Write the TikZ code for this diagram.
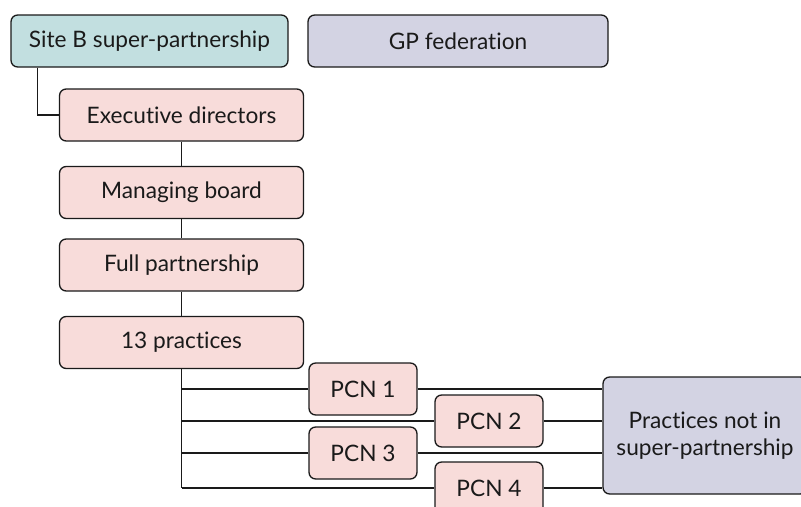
\documentclass[tikz,border=0pt]{standalone}
\usepackage{fontspec}
\setmainfont[RawFeature={-liga;-dlig}]{Lato}
\usetikzlibrary{calc}
\definecolor{tealfill}{HTML}{C2DFE0}
\definecolor{lavfill}{HTML}{D3D3E3}
\definecolor{pinkfill}{HTML}{F8DCDA}
\definecolor{inkcol}{HTML}{1A1A1A}
\tikzset{
  box/.style={draw=inkcol, line width=1pt, rounded corners=5pt, align=center,
    text=inkcol, font=\fontsize{17}{20}\selectfont, inner sep=0pt,
    minimum height=39pt},
  tealbox/.style={box, fill=tealfill},
  lavbox/.style={box, fill=lavfill},
  pinkbox/.style={box, fill=pinkfill},
  link/.style={draw=inkcol, line width=1pt}
}
\begin{document}
\begin{tikzpicture}[x=0.75pt,y=-0.75pt]
  \useasboundingbox (0,0) rectangle (801,507);
  \clip (0,0) rectangle (801,507);
  % top row
  \node[tealbox, minimum width=207.75pt] (siteb) at (149.5,41) {Site B super-partnership};
  \node[lavbox, minimum width=225pt] (gpfed) at (458,41) {GP federation};
  % governance chain
  \node[pinkbox, minimum width=183pt] (exec) at (181.5,115) {Executive directors};
  \node[pinkbox, minimum width=183pt] (board) at (181.5,192.5) {Managing board};
  \node[pinkbox, minimum width=183pt] (full) at (181.5,265) {Full partnership};
  \node[pinkbox, minimum width=183pt] (prac) at (181.5,342.5) {13 practices};
  % primary care networks
  \node[pinkbox, minimum width=81pt] (pcn1) at (363,389) {PCN 1};
  \node[pinkbox, minimum width=81pt] (pcn2) at (489,421) {PCN 2};
  \node[pinkbox, minimum width=81pt] (pcn3) at (363,453) {PCN 3};
  \node[pinkbox, minimum width=81pt] (pcn4) at (489,488) {PCN 4};
  \node[lavbox, minimum width=153pt, minimum height=87.75pt] (other) at (705,435.5)
    {Practices not in\\super-partnership};
  % connectors
  \coordinate (sbdrop) at ($(siteb.south west)+(27,0)$);
  \coordinate (trunkend) at (prac.south |- pcn4.west);
  \draw[link] (sbdrop) |- (exec.west);
  \draw[link] (exec) -- (board);
  \draw[link] (board) -- (full);
  \draw[link] (full) -- (prac);
  \draw[link] (prac.south) -- (trunkend);
  \draw[link] (prac.south |- pcn1.west) -- (pcn1.west);
  \draw[link] (prac.south |- pcn2.west) -- (pcn2.west);
  \draw[link] (prac.south |- pcn3.west) -- (pcn3.west);
  \draw[link] (trunkend) -- (pcn4.west);
  \draw[link] (pcn1.east) -- (pcn1.east -| other.west);
  \draw[link] (pcn2.east) -- (pcn2.east -| other.west);
  \draw[link] (pcn3.east) -- (pcn3.east -| other.west);
  \draw[link] (pcn4.east) -- (pcn4.east -| other.west);
\end{tikzpicture}
\end{document}
